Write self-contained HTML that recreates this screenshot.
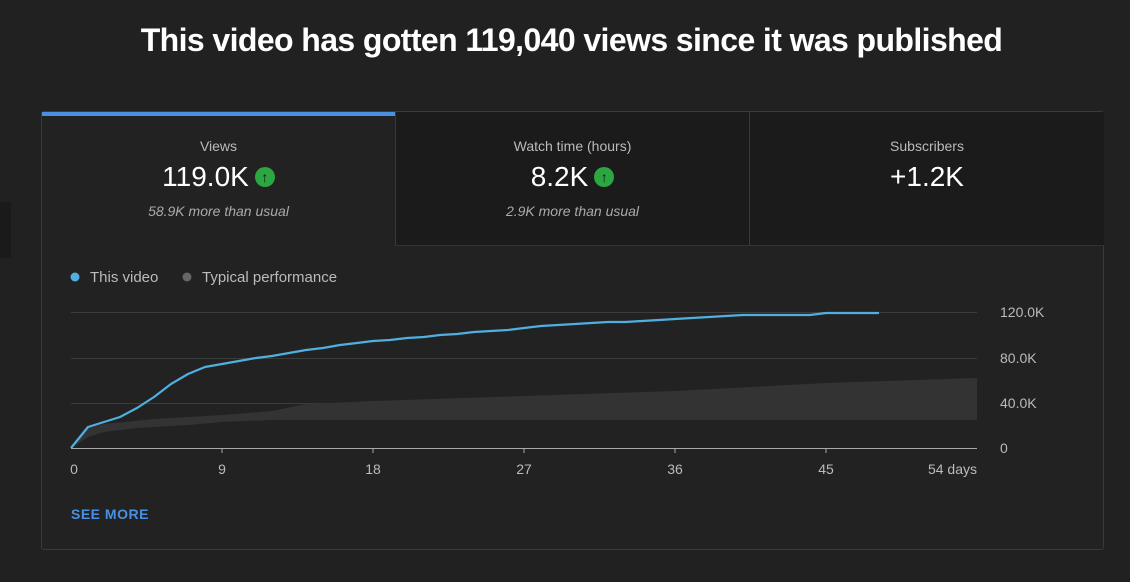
<!DOCTYPE html><html><head><style>
body{margin:0;width:1130px;height:582px;background:#212121;font-family:"Liberation Sans",sans-serif;color:#fff;position:relative;overflow:hidden}
h1{position:absolute;top:22px;left:0;width:1143px;text-align:center;margin:0;font-size:32px;font-weight:bold;letter-spacing:-0.6px}
.box{position:absolute;left:41px;top:111px;width:1061px;height:437px;border:1px solid #3a3a3a;border-radius:3px;background:#222}
.tab{position:absolute;top:0;height:133px;text-align:center;background:#1b1b1b;border-bottom:1px solid #333}
.t1{left:0;width:353px;background:#222;border-bottom:none;border-top:4px solid #4a90e2;height:129px}
.t2{left:353px;width:353px;border-left:1px solid #3a3a3a}
.t3{left:707px;width:354px;border-left:1px solid #3a3a3a}
.lab{margin-top:26px;font-size:14px;color:#bbb}
.t1 .lab{margin-top:22px}
.val{font-size:28px;margin-top:7px;color:#fff}
.up{display:inline-block;width:20px;height:20px;border-radius:50%;background:#2ba640;color:#111;font-size:14px;line-height:20px;vertical-align:4px;margin-left:6px;font-weight:bold}
.sub{font-size:14px;font-style:italic;color:#aaa;margin-top:10px}
.side{position:absolute;left:0;top:202px;width:11px;height:56px;background:#1a1a1a}
</style></head><body>
<h1>This video has gotten 119,040 views since it was published</h1>
<div class="side"></div>
<div class="box">
<div class="tab t1"><div class="lab">Views</div><div class="val">119.0K<span class="up">↑</span></div><div class="sub">58.9K more than usual</div></div>
<div class="tab t2"><div class="lab">Watch time (hours)</div><div class="val">8.2K<span class="up">↑</span></div><div class="sub">2.9K more than usual</div></div>
<div class="tab t3"><div class="lab">Subscribers</div><div class="val">+1.2K</div></div>
</div>
<svg width="1130" height="582" style="position:absolute;left:0;top:0" font-family="Liberation Sans, sans-serif">
<circle cx="75" cy="277" r="4.5" fill="#4fb0e0"/><text x="90" y="282" font-size="15" fill="#bbb">This video</text>
<circle cx="187" cy="277" r="4.5" fill="#666"/><text x="202" y="282" font-size="15" fill="#bbb">Typical performance</text>
<g stroke="#3c3c3c" stroke-width="1"><line x1="71" y1="312.5" x2="977" y2="312.5"/><line x1="71" y1="358.5" x2="977" y2="358.5"/><line x1="71" y1="403.5" x2="977" y2="403.5"/></g>
<path d="M71,448 L88,437 L104,432 L137,428 L188,425 L222,422 L272,420 L977,420 L977,378 L826,383 L675,391 L524,396 L373,401 L306,404 L272,411 L222,415 L154,419 L104,424 L88,428 Z" fill="#333"/>
<line x1="71" y1="448.5" x2="977" y2="448.5" stroke="#aaa"/>
<g stroke="#aaa"><line x1="222" y1="448" x2="222" y2="453"/><line x1="373" y1="448" x2="373" y2="453"/><line x1="524" y1="448" x2="524" y2="453"/><line x1="675" y1="448" x2="675" y2="453"/><line x1="826" y1="448" x2="826" y2="453"/></g>
<polyline fill="none" stroke="#4fb0e0" stroke-width="2.2" stroke-linejoin="round" points="71,448 88,427 104,422 120,417 137,408 154,397 171,384 188,374 205,367 222,364 239,361 256,358 272,356 289,353 306,350 323,348 340,345 357,343 373,341 390,340 407,338 424,337 440,335 457,334 474,332 491,331 508,330 524,328 541,326 558,325 575,324 591,323 608,322 625,322 642,321 659,320 675,319 692,318 709,317 726,316 743,315 760,315 776,315 793,315 810,315 826,313 843,313 860,313 879,313"/>
<g font-size="14" fill="#bbb"><text x="74" y="474" text-anchor="middle">0</text><text x="222" y="474" text-anchor="middle">9</text><text x="373" y="474" text-anchor="middle">18</text><text x="524" y="474" text-anchor="middle">27</text><text x="675" y="474" text-anchor="middle">36</text><text x="826" y="474" text-anchor="middle">45</text><text x="977" y="474" text-anchor="end">54 days</text>
<text x="1000" y="317">120.0K</text><text x="1000" y="363">80.0K</text><text x="1000" y="408">40.0K</text><text x="1000" y="453">0</text></g>
<text x="71" y="519" font-size="14" font-weight="bold" fill="#4a90e2" letter-spacing="0.5">SEE MORE</text>
</svg>
</body></html>
